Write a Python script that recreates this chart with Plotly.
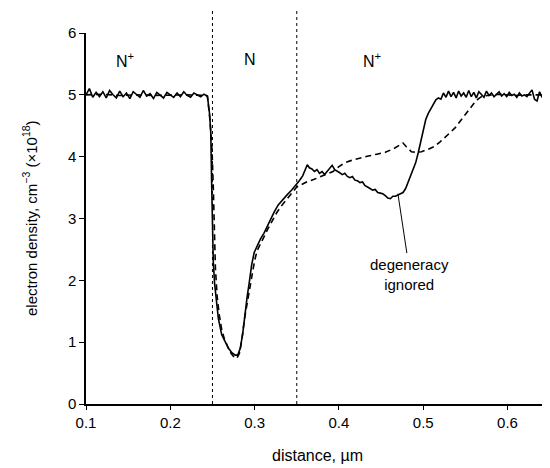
import plotly.graph_objects as go

# ---- data ----
solid_x = [0.100, 0.104, 0.108, 0.112, 0.116, 0.120, 0.124, 0.128, 0.132, 0.136,
           0.140, 0.144, 0.148, 0.152, 0.156, 0.160, 0.164, 0.168, 0.172, 0.176,
           0.180, 0.184, 0.188, 0.192, 0.196, 0.200, 0.204, 0.208, 0.212, 0.216,
           0.220, 0.224, 0.228, 0.232, 0.236, 0.240, 0.244,
           0.2465, 0.2480, 0.2490, 0.2497, 0.2510, 0.2525, 0.2545, 0.2570, 0.2610,
           0.2650, 0.2690, 0.2730, 0.2770, 0.2800, 0.2830, 0.2860, 0.2885, 0.2910,
           0.2935, 0.2965, 0.2995, 0.3030, 0.3070, 0.3110, 0.3150, 0.3190, 0.3230,
           0.3280, 0.3335, 0.3390, 0.3440, 0.3490, 0.3530, 0.3570, 0.3600, 0.3625,
           0.3650, 0.3680, 0.3710, 0.3740, 0.3770, 0.3800, 0.3830, 0.3860, 0.3890,
           0.3920, 0.3950, 0.3980, 0.4010, 0.4040, 0.4070, 0.4100, 0.4130, 0.4160,
           0.4190, 0.4220, 0.4250, 0.4280, 0.4310, 0.4340, 0.4370, 0.4400, 0.4430,
           0.4460, 0.4490, 0.4520, 0.4550, 0.4580, 0.4610, 0.4640, 0.4670, 0.4700,
           0.4730, 0.4760, 0.4790, 0.4820, 0.4850, 0.4880, 0.4910, 0.4940, 0.4970,
           0.5000, 0.5030, 0.5060, 0.5090, 0.5120, 0.5150, 0.5180, 0.5210, 0.5240,
           0.5270, 0.5300, 0.5330, 0.5360, 0.5390, 0.5420, 0.5450, 0.5480, 0.5510,
           0.5540, 0.5570, 0.5600, 0.5630, 0.5660, 0.5690, 0.5720, 0.5750, 0.5780,
           0.5810, 0.5840, 0.5870, 0.5900, 0.5930, 0.5960, 0.5990, 0.6020, 0.6050,
           0.6080, 0.6110, 0.6140, 0.6170, 0.6200, 0.6230, 0.6260, 0.6290, 0.6320,
           0.6350, 0.6380, 0.6410, 0.6440, 0.6460, 0.6480, 0.6500]
solid_y = [5.00, 5.10, 4.96, 5.04, 4.97, 5.05, 4.95, 5.07, 5.00, 4.95,
           5.06, 4.97, 5.03, 4.94, 5.05, 5.00, 4.96, 5.07, 4.98, 5.02,
           4.94, 5.04, 4.99, 4.95, 5.04, 5.00, 4.96, 5.03, 4.97, 5.05,
           4.99, 4.96, 5.03, 5.00, 4.97, 5.01, 4.98,
           4.70, 4.40, 3.60, 2.90, 2.30, 1.95, 1.65, 1.38, 1.12,
           1.00, 0.90, 0.83, 0.79, 0.79, 0.90, 1.15, 1.47, 1.72,
           1.95, 2.25, 2.45, 2.56, 2.67, 2.76, 2.88, 3.00, 3.10,
           3.22, 3.31, 3.39, 3.46, 3.54, 3.61, 3.69, 3.80, 3.87,
           3.82, 3.80, 3.76, 3.79, 3.73, 3.76, 3.71, 3.76, 3.80,
           3.86, 3.79, 3.77, 3.74, 3.71, 3.73, 3.68, 3.66, 3.68,
           3.62, 3.61, 3.58, 3.59, 3.53, 3.51, 3.49, 3.46, 3.47,
           3.42, 3.41, 3.40, 3.37, 3.33, 3.32, 3.36, 3.36, 3.38,
           3.39, 3.42, 3.48, 3.58, 3.68, 3.78, 3.90, 4.06, 4.26,
           4.45, 4.60, 4.70, 4.77, 4.84, 4.92, 4.95, 4.93, 5.03,
           4.96, 5.06, 4.97, 5.04, 4.95, 5.06, 4.98, 5.03, 4.96,
           5.07, 4.97, 5.04, 4.95, 5.05, 5.00, 4.96, 5.06, 4.99,
           5.03, 4.97, 5.01, 5.05, 4.98, 5.02, 4.97, 5.04, 4.99,
           5.01, 4.96, 5.03, 4.98, 5.00, 4.97, 5.02, 5.08, 4.93,
           4.90, 5.05, 4.96, 5.05, 5.24, 5.10, 5.05]

dashed_x = [0.100, 0.120, 0.140, 0.160, 0.180, 0.200, 0.220, 0.240, 0.244,
            0.2470, 0.2495, 0.2510, 0.2520, 0.2535, 0.2555, 0.2580, 0.2610, 0.2640,
            0.2680, 0.2720, 0.2760, 0.2790, 0.2820, 0.2850, 0.2880, 0.2910, 0.2940,
            0.2970, 0.3000, 0.3030, 0.3070, 0.3110, 0.3160, 0.3210, 0.3260, 0.3310,
            0.3370, 0.3440, 0.3500, 0.3560, 0.3630, 0.3700, 0.3770, 0.3850, 0.3930,
            0.4000, 0.4070, 0.4150, 0.4250, 0.4350, 0.4450, 0.4550, 0.4650, 0.4720,
            0.4760, 0.4800, 0.4860, 0.4920, 0.4980, 0.5060, 0.5140, 0.5200, 0.5260,
            0.5320, 0.5380, 0.5440, 0.5500, 0.5550, 0.5600, 0.5650, 0.5700, 0.5800,
            0.5900, 0.6000, 0.6100, 0.6200, 0.6300, 0.6400, 0.6500]
dashed_y = [5.00, 5.01, 4.99, 5.00, 4.99, 5.00, 5.00, 4.99, 4.98,
            4.60, 4.10, 3.50, 2.80, 2.20, 1.75, 1.45, 1.20, 1.06,
            0.93, 0.82, 0.75, 0.74, 0.82, 1.05, 1.38, 1.62, 1.85,
            2.10, 2.32, 2.48, 2.60, 2.70, 2.84, 2.97, 3.09, 3.19,
            3.30, 3.41, 3.51, 3.55, 3.60, 3.63, 3.67, 3.72, 3.76,
            3.84, 3.90, 3.94, 3.98, 4.01, 4.04, 4.07, 4.13, 4.19,
            4.22, 4.16, 4.08, 4.07, 4.08, 4.12, 4.17, 4.24, 4.31,
            4.39, 4.47, 4.57, 4.68, 4.77, 4.86, 4.93, 4.98, 4.99,
            5.01, 5.00, 4.99, 5.00, 5.00, 5.00, 5.00]

boundaries = [0.25, 0.35]
region_labels = ["N<sup>+</sup>", "N", "N<sup>+</sup>"]
region_x = [0.146, 0.294, 0.439]
region_y = [5.57, 5.57, 5.57]

x_ticks = [0.1, 0.2, 0.3, 0.4, 0.5, 0.6]
y_ticks = [0, 1, 2, 3, 4, 5, 6]

FONT = "Liberation Sans, Arial, Helvetica, sans-serif"

fig = go.Figure()
fig.add_trace(go.Scatter(x=solid_x, y=solid_y, mode="lines",
                         line=dict(color="black", width=1.6), showlegend=False))
fig.add_trace(go.Scatter(x=dashed_x, y=dashed_y, mode="lines",
                         line=dict(color="black", width=1.6, dash="6px,4px"),
                         showlegend=False))

for b in boundaries:
    fig.add_shape(type="line", xref="x", yref="paper", x0=b, x1=b, y0=0, y1=1.067,
                  line=dict(color="black", width=1, dash="dot"))

for t, xx, yy in zip(region_labels, region_x, region_y):
    fig.add_annotation(x=xx, y=yy, text=t, showarrow=False,
                       font=dict(size=16, color="black", family=FONT))

# leader for "degeneracy ignored"
fig.add_shape(type="line", xref="x", yref="y", x0=0.470, y0=3.40, x1=0.4806, y1=2.44,
              line=dict(color="black", width=1))
fig.add_annotation(x=0.484, y=2.09, text="degeneracy<br>ignored", showarrow=False,
                   font=dict(size=15, color="black", family=FONT))

# axis titles
fig.add_annotation(xref="paper", yref="y", x=-0.121, y=3.01,
                   xanchor="center", yanchor="middle",
                   text="electron density, cm<sup>−3</sup> (×10<sup>18</sup>)",
                   textangle=-90, showarrow=False,
                   font=dict(size=15, color="black", family=FONT))
fig.add_annotation(xref="x", yref="paper", x=0.374, y=-0.1375,
                   xanchor="center", yanchor="middle",
                   text="distance, µm", showarrow=False,
                   font=dict(size=16, color="black", family=FONT))

fig.update_layout(
    width=542, height=460,
    margin=dict(l=78, r=2, t=25, b=64),
    paper_bgcolor="white", plot_bgcolor="white",
    font=dict(family=FONT, color="black", size=15),
    xaxis=dict(range=[0.1, 0.648], tickvals=x_ticks, ticktext=[f"{v:.1f}" for v in x_ticks],
               showgrid=False, zeroline=False, showline=True, linecolor="black",
               linewidth=1.5, ticks="outside", ticklen=4, tickcolor="black"),
    yaxis=dict(range=[0, 6], tickvals=y_ticks, showgrid=False, zeroline=False,
               showline=True, linecolor="black", linewidth=1.5, ticks="outside",
               ticklen=5, tickcolor="black"),
)

fig.write_html("out.html")
